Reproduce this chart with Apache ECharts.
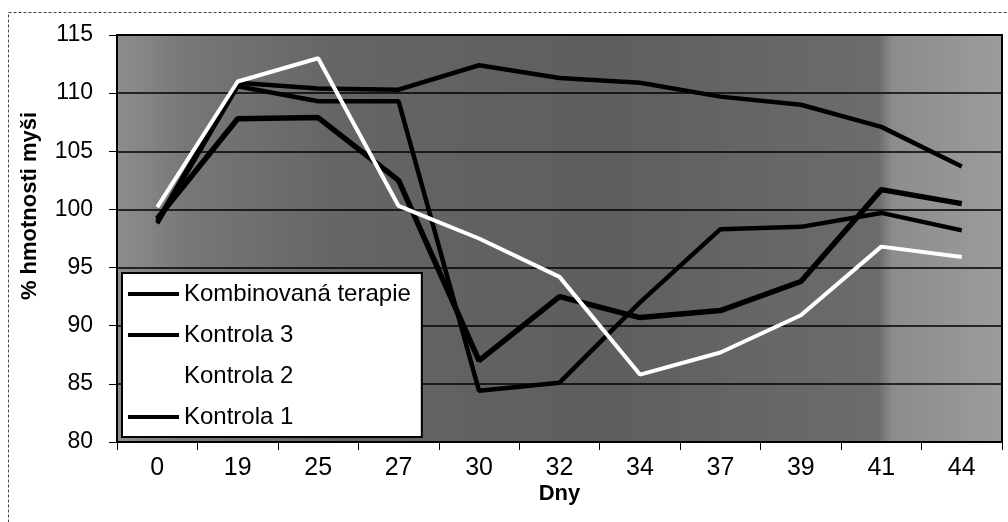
<!DOCTYPE html>
<html>
<head>
<meta charset="utf-8">
<script src="https://cdn.jsdelivr.net/npm/echarts@6/dist/echarts.min.js"></script>
<style>
  html, body { margin: 0; padding: 0; background: #fff; }
  #chart { width: 1008px; height: 522px; }
</style>
</head>
<body>
<div id="chart"></div>
<script>
// Days of measurement (category axis)
const dny = ['0', '19', '25', '27', '30', '32', '34', '37', '39', '41', '44'];

// Body weight of mice, % of starting weight
const kombinovanaTerapie = [99.2, 107.8, 107.9, 102.5, 87.0, 92.5, 90.7, 91.3, 93.8, 101.7, 100.5];
const kontrola3 = [98.8, 110.6, 109.3, 109.3, 84.4, 85.1, 92.0, 98.3, 98.5, 99.7, 98.2];
const kontrola2 = [100.2, 111.0, 113.0, 100.3, 97.5, 94.2, 85.8, 87.7, 90.9, 96.8, 95.9];
const kontrola1 = [99.0, 110.9, 110.4, 110.3, 112.4, 111.3, 110.9, 109.7, 109.0, 107.1, 103.7];

// Value axis range
const yMin = 80, yMax = 115, yStep = 5;

const FONT = '"Liberation Sans", Arial, sans-serif';

const chart = echarts.init(document.getElementById('chart'), null, { renderer: 'canvas' });

chart.setOption({
  animation: false,
  backgroundColor: '#ffffff',
  grid: {
    left: 117, right: 6, top: 35, bottom: 80,
    show: true,
    borderColor: '#000',
    borderWidth: 2,
    backgroundColor: {
      type: 'linear', x: 0, y: 0, x2: 1, y2: 0,
      colorStops: [
        { offset: 0.00, color: '#8e8e8e' },
        { offset: 0.08, color: '#777777' },
        { offset: 0.25, color: '#656565' },
        { offset: 0.55, color: '#5e5e5e' },
        { offset: 0.86, color: '#6c6c6c' },
        { offset: 0.875, color: '#8c8c8c' },
        { offset: 1.00, color: '#9c9c9c' }
      ]
    }
  },
  graphic: [
    {
      type: 'rect',
      shape: { x: 8.5, y: 12.5, width: 1200, height: 700 },
      style: { fill: 'none', stroke: '#444', lineWidth: 1, lineDash: [3, 2] },
      silent: true
    },
    {
      type: 'text',
      x: 30, y: 206,
      rotation: Math.PI / 2,
      style: {
        text: '% hmotnosti myši',
        font: 'bold 22px ' + FONT,
        fill: '#000',
        align: 'center',
        verticalAlign: 'middle'
      }
    }
  ],
  legend: {
    data: ['Kombinovaná terapie', 'Kontrola 3', 'Kontrola 2', 'Kontrola 1'],
    orient: 'vertical',
    left: 122, top: 273,
    padding: [9, 11, 8, 6],
    itemGap: 17,
    itemWidth: 51,
    itemHeight: 4,
    icon: 'rect',
    backgroundColor: '#ffffff',
    borderColor: '#000',
    borderWidth: 2,
    borderRadius: 0,
    selectedMode: false,
    textStyle: { fontFamily: FONT, fontSize: 24, color: '#000', padding: [0, 0, 0, 0] }
  },
  xAxis: {
    type: 'category',
    data: dny,
    boundaryGap: true,
    name: 'Dny',
    nameLocation: 'middle',
    nameGap: 41,
    nameMoveOverlap: false,
    nameTextStyle: { fontFamily: FONT, fontSize: 22, fontWeight: 'bold', color: '#000' },
    axisLine: { lineStyle: { color: '#000', width: 1.5 } },
    axisTick: { show: true, length: 8, inside: false, lineStyle: { color: '#000', width: 1 } },
    axisLabel: { fontFamily: FONT, fontSize: 25, color: '#000', margin: 14 },
    splitLine: { show: false }
  },
  yAxis: {
    type: 'value',
    min: yMin, max: yMax, interval: yStep,
    axisLine: { show: true, lineStyle: { color: '#000', width: 1.5 } },
    axisTick: { show: true, length: 8, inside: false, lineStyle: { color: '#000', width: 1 } },
    axisLabel: { fontFamily: FONT, fontSize: 23, color: '#000', margin: 24 },
    splitLine: { show: true, lineStyle: { color: '#000', width: 1.5 } }
  },
  series: [
    {
      name: 'Kontrola 1', type: 'line', data: kontrola1,
      symbol: 'none', color: '#000',
      lineStyle: { color: '#000', width: 4.5 }, z: 2
    },
    {
      name: 'Kontrola 3', type: 'line', data: kontrola3,
      symbol: 'none', color: '#000',
      lineStyle: { color: '#000', width: 4.5 }, z: 3
    },
    {
      name: 'Kombinovaná terapie', type: 'line', data: kombinovanaTerapie,
      symbol: 'none', color: '#000',
      lineStyle: { color: '#000', width: 5.5 }, z: 4
    },
    {
      name: 'Kontrola 2', type: 'line', data: kontrola2,
      symbol: 'none', color: '#ffffff',
      lineStyle: { color: '#ffffff', width: 4 }, z: 5
    }
  ]
});
</script>
</body>
</html>
